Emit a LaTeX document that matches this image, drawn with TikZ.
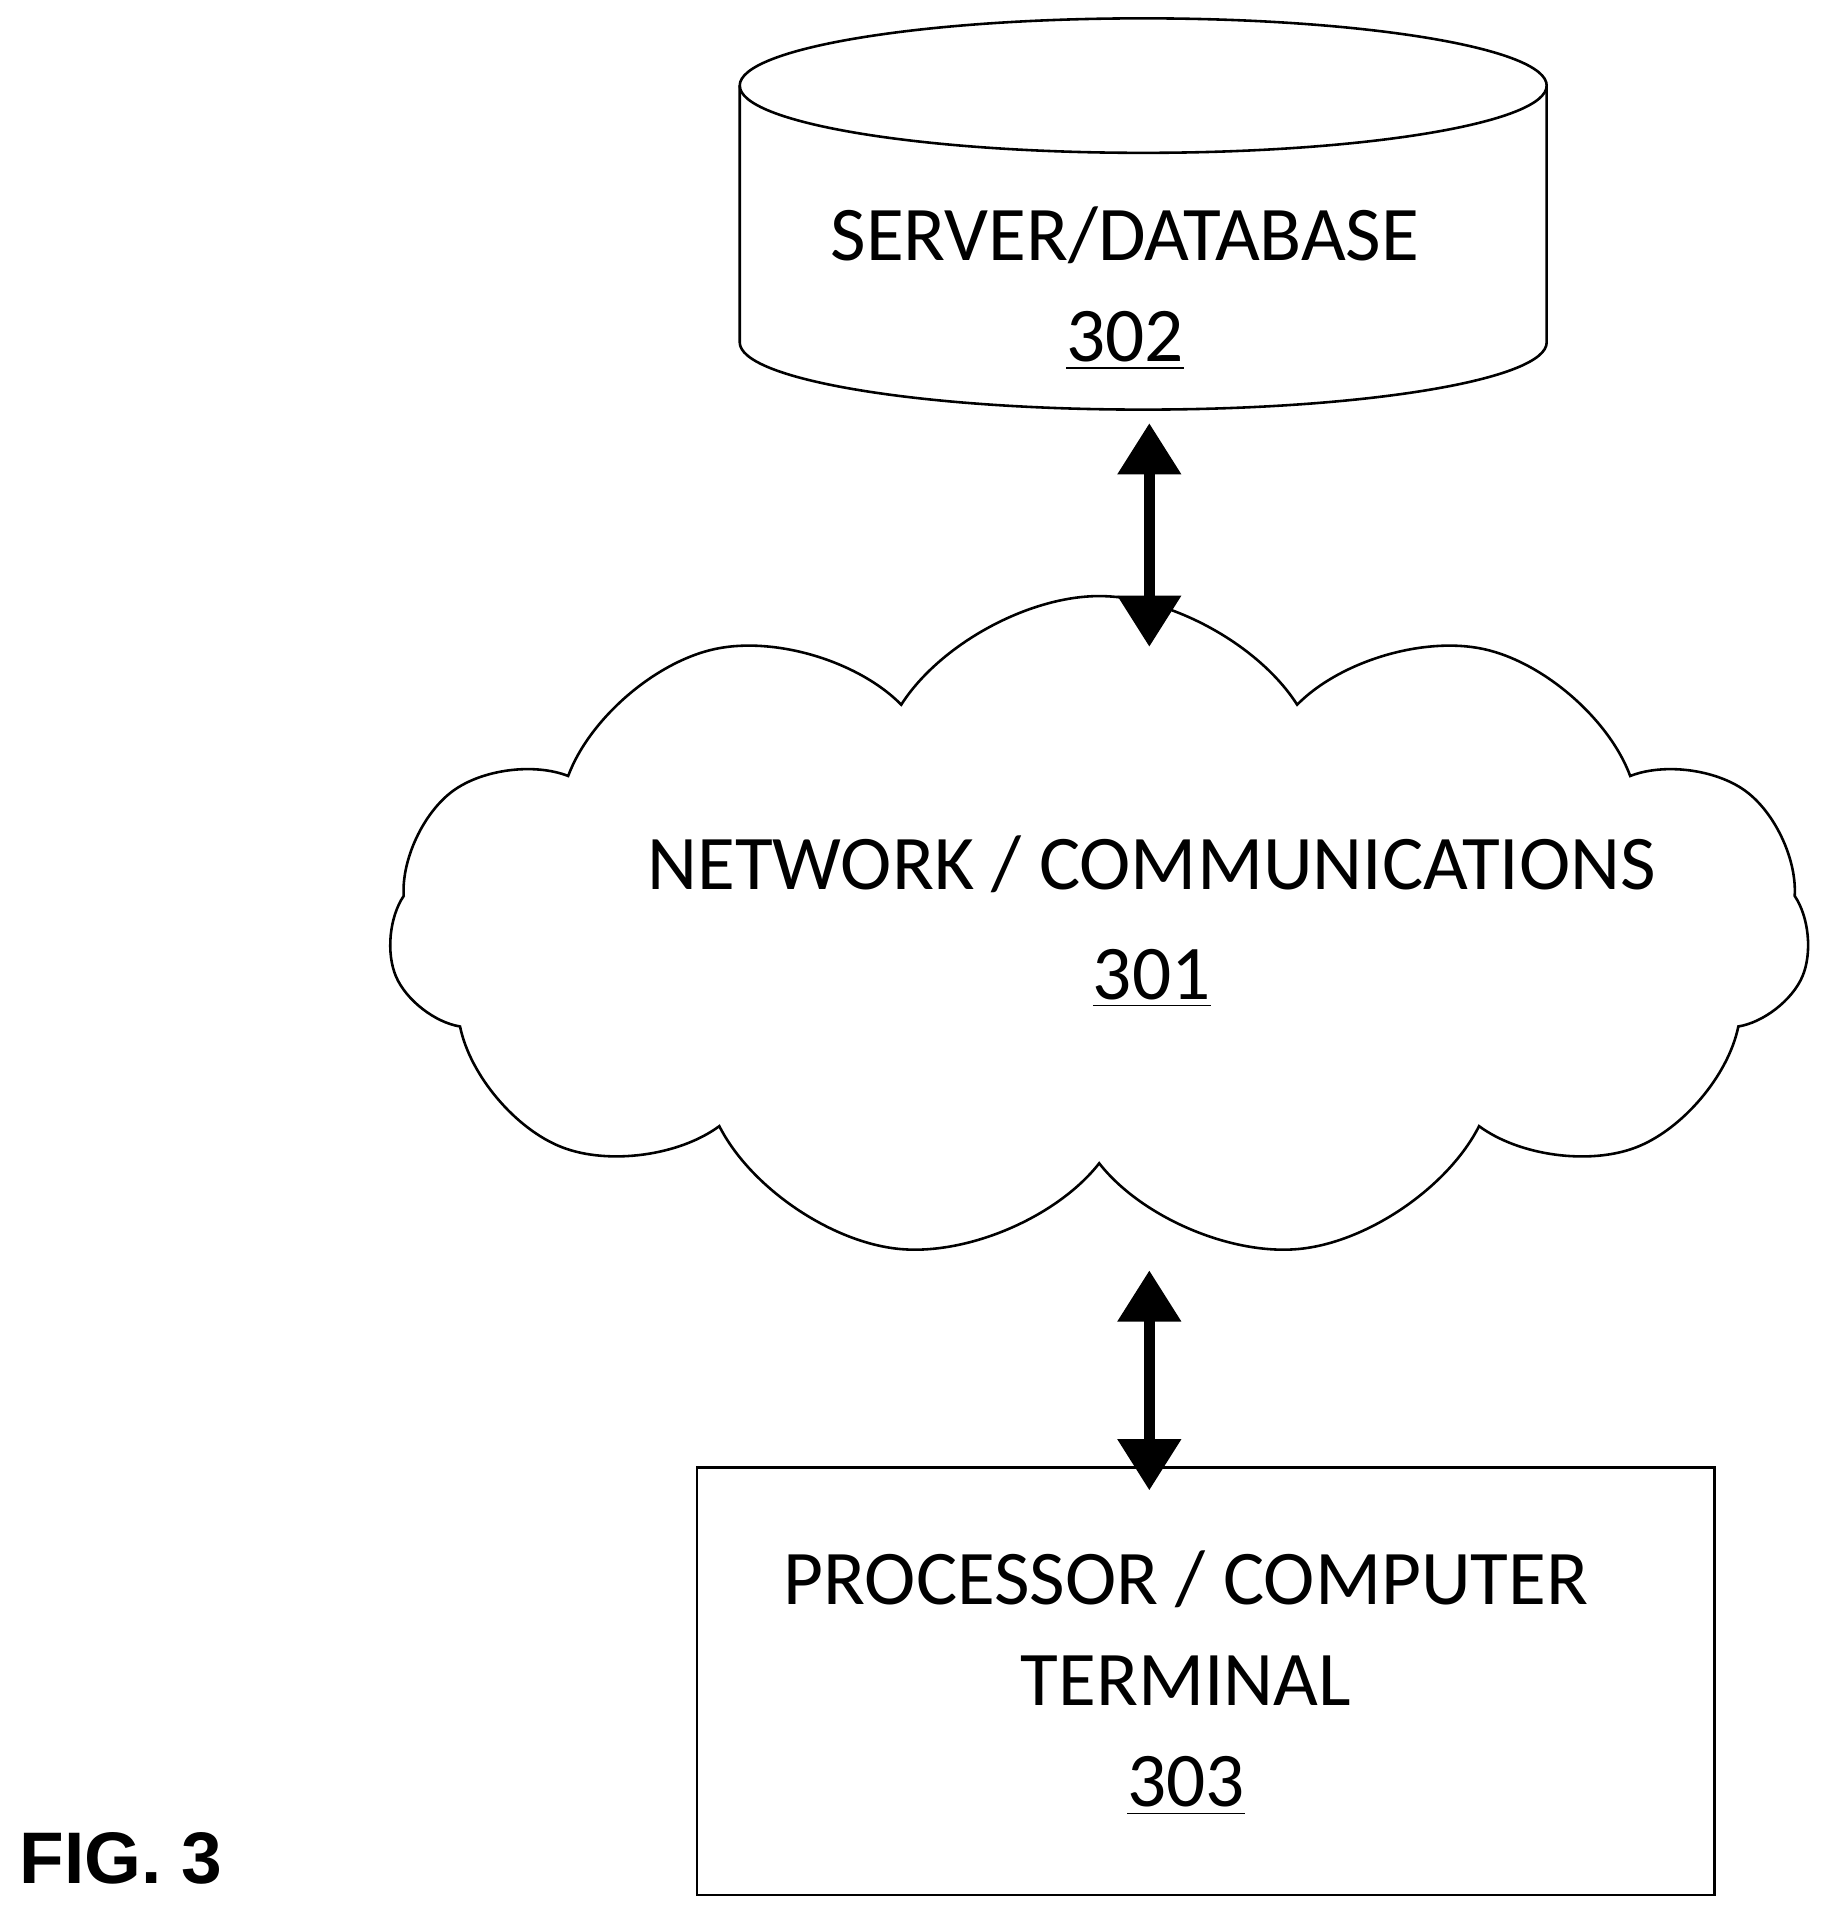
\documentclass[tikz,border=0pt]{standalone}
\usepackage{fontspec}
\setmainfont{Carlito}
\newfontfamily\figfont{Liberation Sans}
\usetikzlibrary{positioning}
\usetikzlibrary{arrows.meta,shapes.symbols}

\begin{document}
\begin{tikzpicture}[semithick,
	lbl/.style={align=center,font=\fontsize{18}{27.5}\selectfont},
	dbl/.style={{Triangle[width=0.5cm,length=0.42cm]}-{Triangle[width=0.5cm,length=0.42cm]},line width=2.6pt},
	box/.style={draw,minimum width=8.32cm,minimum height=3.5cm}]
	\useasboundingbox (0,0) rectangle (15.01,-15.695);

	% server / database
	\node[minimum width=6.6cm,minimum height=3.2cm] (db) at (9.35,-1.75) {};
	\draw (6.05,-0.7) -- (6.05,-2.8) arc[start angle=180,end angle=360,x radius=3.3cm,y radius=0.55cm] -- (12.65,-0.7);
	\draw (9.35,-0.7) ellipse[x radius=3.3cm,y radius=0.55cm];
	\node[lbl] (dblbl) at (9.2,-2.36) {SERVER/DATABASE\\[-4pt]\underline{302}};

	% network cloud
	\node[cloud,draw,cloud puffs=11,cloud puff arc=115,aspect=2.2,
		minimum width=11.62cm,minimum height=5.45cm,inner sep=0pt] (net) at (8.99,-7.6) {};
	\node[lbl] (netlbl) at (9.42,-7.54) {NETWORK / COMMUNICATIONS\\[-2pt]\underline{301}};

	% terminal
	\node[box] (term) at (9.86,-13.75) {};
	\node[lbl] (termlbl) at (9.7,-13.77) {PROCESSOR / COMPUTER\\[-4pt]TERMINAL\\[-4pt]\underline{303}};

	\draw[dbl] ([xshift=0.05cm,yshift=-0.1cm]db.south) -- ([xshift=0.05cm,yshift=-1.93cm]db.south);
	\draw[dbl] ([xshift=-0.46cm,yshift=1.6cm]term.north) -- ([xshift=-0.46cm,yshift=-0.2cm]term.north);

	\node[font=\figfont\bfseries\fontsize{17}{20}\selectfont,anchor=west,inner sep=0pt] (fig) at (0.15,-15.2) {FIG. 3};
\end{tikzpicture}
\end{document}
